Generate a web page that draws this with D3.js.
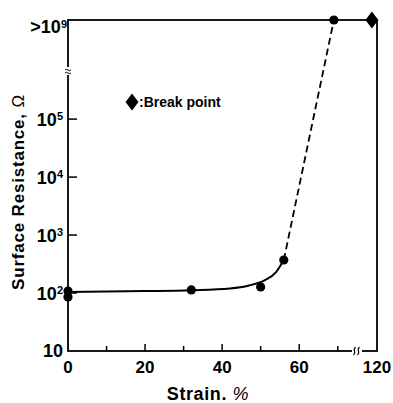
<!DOCTYPE html>
<html>
<head>
<meta charset="utf-8">
<script src="https://cdn.jsdelivr.net/npm/d3@7"></script>
<style>
  body { margin: 0; background: #fff; }
  text { font-family: "Liberation Sans", Arial, sans-serif; font-weight: bold; fill: #000; }
</style>
</head>
<body>
<script>
// measured points (strain %, surface resistance ohm)
const pointStrain = [0, 0, 32, 50, 56, 69];
const pointRes = [108, 85, 113, 127, 371, 1e9];

// smooth fitted curve through the measured points (solid part)
const fitStrain = [0, 20, 32, 42, 47, 51, 54, 56];
const fitRes = [104, 108, 112, 120, 135, 165, 230, 371];

// dashed part, extrapolated to the top
const dashStrain = [56, 69];
const dashRes = [371, 1e9];

// break point of the sample
const breakStrain = [117];
const breakRes = [1e9];

const xTicksMajor = [20, 40, 60];
const xTicksMinor = [10, 30, 50, 70];
const xTickLabels = [0, 20, 40, 60, 120];
const yTickExp = [1, 2, 3, 4, 5];

const width = 393, height = 403;
const margin = { left: 68, top: 20, right: 16, bottom: 52 };
const w = width - margin.left - margin.right;   // 309
const h = height - margin.top - margin.bottom;  // 331

const svg = d3.select('body').append('svg')
    .attr('width', width)
    .attr('height', height);

const g = svg.append('g')
    .attr('transform', `translate(${margin.left},${margin.top})`);

// broken x axis: 0..75 linear, then jump to the 110..120 segment
const x = d3.scaleLinear()
    .domain([0, 75, 110, 120])
    .range([0, 289, 292, 309]);

// broken log y axis: 10..10^5.83 with 58px/decade, then squeezed to 10^9
const y = d3.scaleLog()
    .domain([10, Math.pow(10, 5.83), 1e9])
    .range([h, 51, 0]);

// frame
g.append('rect')
    .attr('width', w).attr('height', h)
    .attr('fill', 'none')
    .attr('stroke', '#000')
    .attr('stroke-width', 1.8);

// break on the x axis (two small squiggles across the axis)
const xb = 289;
g.append('rect').attr('x', xb - 5).attr('y', h - 3).attr('width', 10).attr('height', 6).attr('fill', '#fff');
[-2, 2].forEach(o => {
    g.append('path')
        .attr('d', `M${xb + o - 1.5},${h + 4} q2,-2 1,-4 q-1,-2 1,-4`)
        .attr('fill', 'none').attr('stroke', '#000').attr('stroke-width', 1.2);
});

// break on the y axis
const yb = 51;
g.append('rect').attr('x', -3).attr('y', yb - 4).attr('width', 6).attr('height', 8).attr('fill', '#fff');
[-1.5, 1.5].forEach(o => {
    g.append('path')
        .attr('d', `M-3,${yb + o + 0.5} q1.5,-1.5 3,0 q1.5,1.5 3,0`)
        .attr('fill', 'none').attr('stroke', '#000').attr('stroke-width', 1);
});

// inward ticks
g.selectAll('line.xmaj').data(xTicksMajor).enter().append('line')
    .attr('x1', d => x(d)).attr('x2', d => x(d))
    .attr('y1', h).attr('y2', h - 7)
    .attr('stroke', '#000').attr('stroke-width', 1.5);
g.selectAll('line.xmin').data(xTicksMinor).enter().append('line')
    .attr('x1', d => x(d)).attr('x2', d => x(d))
    .attr('y1', h).attr('y2', h - 5)
    .attr('stroke', '#000').attr('stroke-width', 1.5);
g.selectAll('line.ytick').data(yTickExp.slice(1)).enter().append('line')
    .attr('x1', 0).attr('x2', 9)
    .attr('y1', d => y(Math.pow(10, d))).attr('y2', d => y(Math.pow(10, d)))
    .attr('stroke', '#000').attr('stroke-width', 1.5);

// x tick labels
g.selectAll('text.xlab').data(xTickLabels).enter().append('text')
    .attr('x', d => x(d)).attr('y', h + 22)
    .attr('text-anchor', 'middle')
    .style('font-size', '17px')
    .text(d => d);

// y tick labels
const ylab = g.selectAll('text.ylab').data(yTickExp).enter().append('text')
    .attr('x', -5).attr('y', d => y(Math.pow(10, d)))
    .attr('dy', '0.36em')
    .attr('text-anchor', 'end')
    .style('font-size', '18px');
ylab.append('tspan').text('10');
ylab.filter(d => d > 1).append('tspan')
    .attr('dy', '-0.5em')
    .style('font-size', '11px')
    .text(d => d);

const topLab = g.append('text')
    .attr('x', -1).attr('y', 13)
    .attr('text-anchor', 'end')
    .style('font-size', '18px');
topLab.append('tspan').text('>10');
topLab.append('tspan').attr('dy', '-0.5em').style('font-size', '11px').text('9');

// axis titles
svg.append('text')
    .attr('x', 208).attr('y', 400)
    .attr('text-anchor', 'middle')
    .style('font-size', '18px')
    .style('letter-spacing', '0.6px')
    .call(t => {
        t.append('tspan').text('Strain. ');
        t.append('tspan').style('font-weight', 'normal').style('font-style', 'italic').text('%');
    });

svg.append('text')
    .attr('transform', 'translate(24,192) rotate(-90)')
    .attr('text-anchor', 'middle')
    .style('font-size', '17px')
    .style('letter-spacing', '0.8px')
    .call(t => {
        t.append('tspan').text('Surface Resistance, ');
        t.append('tspan').style('font-weight', 'normal').text('Ω');
    });

// fitted curve
const line = d3.line()
    .x(d => x(d[0]))
    .y(d => y(d[1]))
    .curve(d3.curveMonotoneX);

g.append('path')
    .datum(d3.zip(fitStrain, fitRes))
    .attr('d', line)
    .attr('fill', 'none')
    .attr('stroke', '#000')
    .attr('stroke-width', 2);

g.append('path')
    .datum(d3.zip(dashStrain, dashRes))
    .attr('d', d3.line().x(d => x(d[0])).y(d => y(d[1])))
    .attr('fill', 'none')
    .attr('stroke', '#000')
    .attr('stroke-width', 1.8)
    .attr('stroke-dasharray', '7,4');

// points
g.selectAll('circle.pt').data(d3.zip(pointStrain, pointRes)).enter().append('circle')
    .attr('cx', d => x(d[0]))
    .attr('cy', d => y(d[1]))
    .attr('r', 4.6)
    .attr('fill', '#000');

// break point diamond
const diamond = 'M0,-8.5L6.5,0L0,8.5L-6.5,0Z';
g.selectAll('path.brk').data(d3.zip(breakStrain, breakRes)).enter().append('path')
    .attr('transform', d => `translate(${x(d[0])},${y(d[1])})`)
    .attr('d', diamond)
    .attr('fill', '#000');

// legend
svg.append('path')
    .attr('transform', 'translate(132,102)')
    .attr('d', diamond)
    .attr('fill', '#000');
svg.append('text')
    .attr('x', 139).attr('y', 107)
    .style('font-size', '14px')
    .text(':Break point');
</script>
</body>
</html>
